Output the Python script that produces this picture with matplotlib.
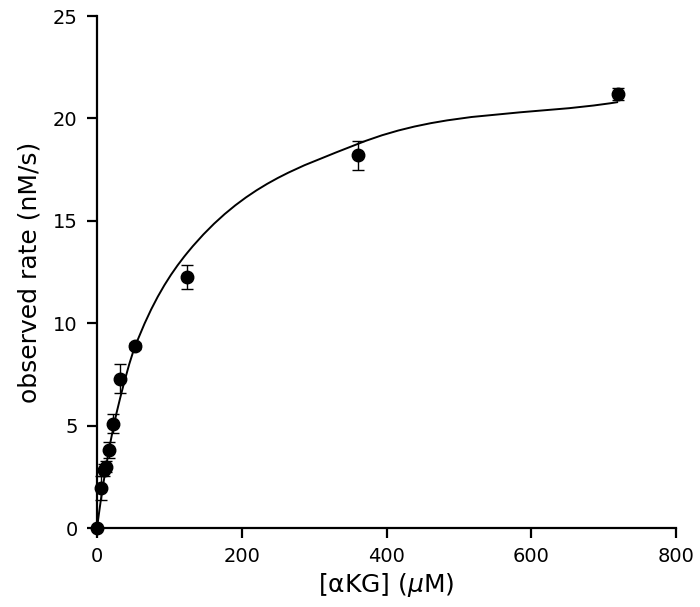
import numpy as np
import matplotlib
matplotlib.use("Agg")
from matplotlib import pyplot as plt
from matplotlib.path import Path
from matplotlib.patches import PathPatch

# substrate concentrations (uM) and observed rates (nM/s)
conc = [0, 5, 10, 13, 17, 22, 32, 52, 125, 360, 720]
rate = [0, 1.95, 2.85, 3.0, 3.8, 5.1, 7.3, 8.9, 12.25, 18.2, 21.2]
rate_err = [0, 0.6, 0.3, 0.25, 0.38, 0.45, 0.72, 0.15, 0.6, 0.72, 0.3]
# fitted curve values at each concentration
fit = [0, 1.3, 2.45, 3.1, 3.9, 4.8, 6.35, 8.8, 13.45, 18.75, 20.8]

plt.rcParams['font.family'] = ['DejaVu Sans']

fig = plt.figure(figsize=(7, 6.07), dpi=100)
ax = fig.add_axes([0.1386, 0.1301, 0.8271, 0.8435])

# smooth line through the fitted values: cubic Hermite segments drawn as Bezier curves
x = np.array(conc, dtype=float)
y = np.array(fit, dtype=float)
n = len(x)
secant = np.diff(y) / np.diff(x)
slope = np.empty(n)
slope[0] = secant[0]
slope[-1] = secant[-1]
slope[1:-1] = (secant[:-1] + secant[1:]) / 2.0
verts = [(x[0], y[0])]
codes = [Path.MOVETO]
for i in range(n - 1):
    h = (x[i + 1] - x[i]) / 3.0
    verts += [(x[i] + h, y[i] + h * slope[i]),
              (x[i + 1] - h, y[i + 1] - h * slope[i + 1]),
              (x[i + 1], y[i + 1])]
    codes += [Path.CURVE4] * 3
ax.add_patch(PathPatch(Path(verts, codes), fill=False, edgecolor='black', lw=1.4))

ax.errorbar(conc, rate, yerr=rate_err, fmt='o', color='black', ms=9,
            ecolor='black', elinewidth=1.0, capsize=4, capthick=1.0,
            clip_on=False, zorder=3)

ax.set_xlim(0, 800)
ax.set_ylim(0, 25)
ax.set_xticks([0, 200, 400, 600, 800])
ax.set_yticks([0, 5, 10, 15, 20, 25])

for side in ['top', 'right']:
    ax.spines[side].set_visible(False)
for side in ['left', 'bottom']:
    ax.spines[side].set_linewidth(1.6)
ax.tick_params(direction='out', length=7, width=1.6, labelsize=14, pad=7)

ax.set_xlabel(r'[αKG] ($\mu$M)', fontsize=18, labelpad=3)
ax.set_ylabel('observed rate (nM/s)', fontsize=18, labelpad=8)

fig.savefig('out.png', dpi=100)
